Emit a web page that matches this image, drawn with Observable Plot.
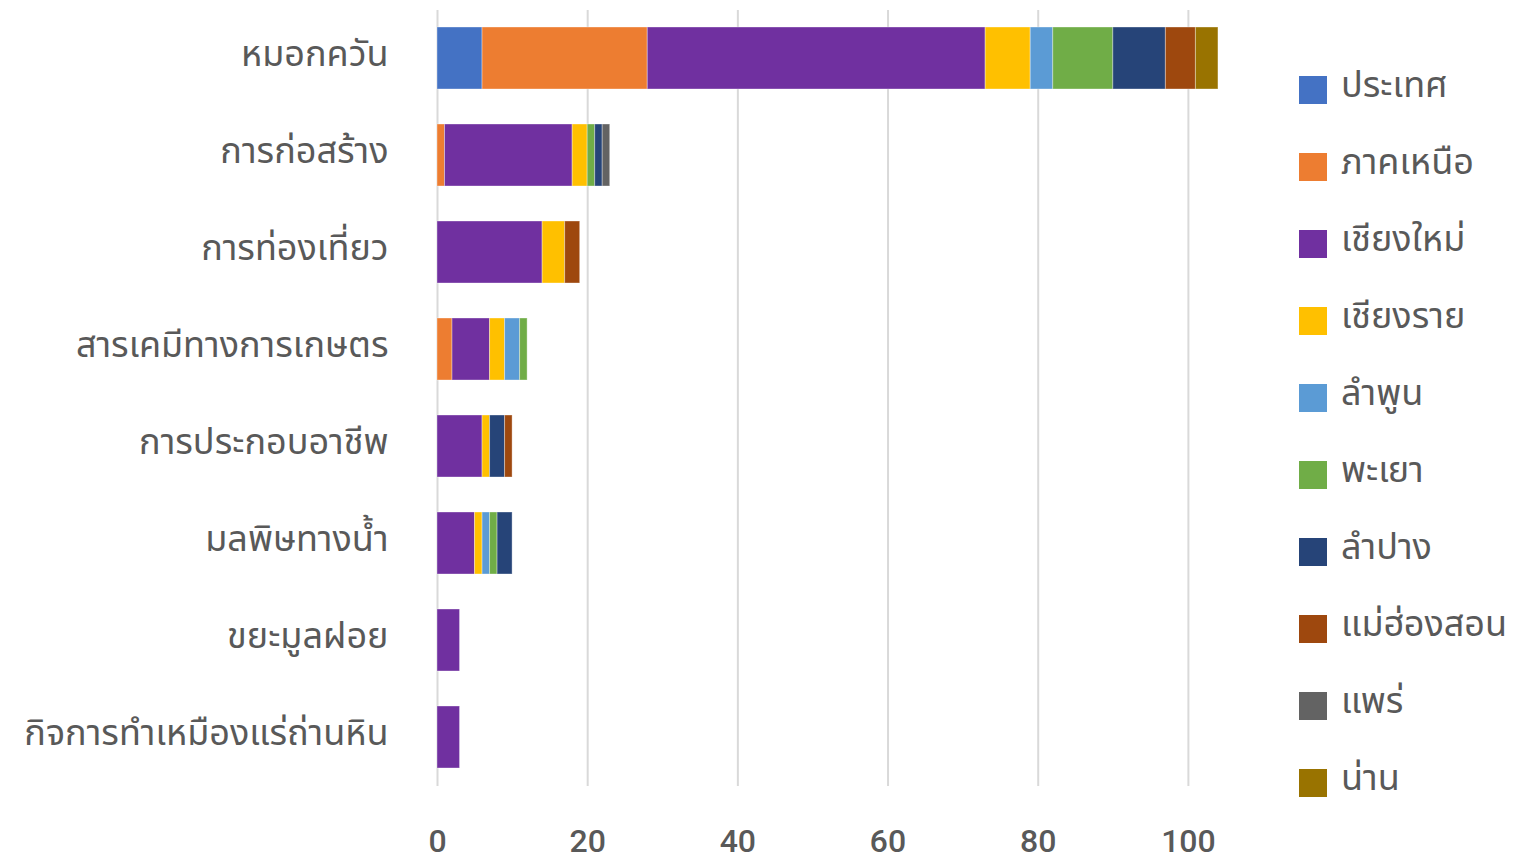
<!DOCTYPE html>
<html>
<head>
<meta charset="utf-8">
<script src="https://cdn.jsdelivr.net/npm/d3@7"></script>
<script src="https://cdn.jsdelivr.net/npm/@observablehq/plot@0.6"></script>
<style>
  html, body { margin: 0; padding: 0; background: #fff; }
  body { width: 1532px; height: 860px; overflow: hidden; font-family: "Noto Sans Thai", Kanit, "Noto Sans", sans-serif; }
  #wrap { position: relative; width: 1532px; height: 860px; }
  #chart { position: absolute; left: 0; top: 0; }
  #legend { position: absolute; left: 1299px; top: 51px; }
  .item { display: flex; align-items: center; height: 77.1px; font-size: 36px; color: #595959; }
  .item span { position: relative; top: -4px; white-space: nowrap; }
  .sw { width: 28px; height: 28px; margin-right: 14px; flex: none; }
</style>
</head>
<body>
<div id="wrap"><div id="chart"></div><div id="legend"></div></div>
<script>
const categories = ["หมอกควัน", "การก่อสร้าง", "การท่องเที่ยว", "สารเคมีทางการเกษตร", "การประกอบอาชีพ", "มลพิษทางน้ำ", "ขยะมูลฝอย", "กิจการทำเหมืองแร่ถ่านหิน"];
const seriesNames = ["ประเทศ", "ภาคเหนือ", "เชียงใหม่", "เชียงราย", "ลำพูน", "พะเยา", "ลำปาง", "แม่ฮ่องสอน", "แพร่", "น่าน"];
const seriesColors = ["#4472C4", "#ED7D31", "#7030A0", "#FFC000", "#5B9BD5", "#70AD47", "#264478", "#9E480E", "#636363", "#997300"];
// values[category][series]
const values = [
  [6, 22, 45, 6, 3, 8, 7, 4, 0, 3],
  [0, 1, 17, 2, 0, 1, 1, 0, 1, 0],
  [0, 0, 14, 3, 0, 0, 0, 2, 0, 0],
  [0, 2, 5, 2, 2, 1, 0, 0, 0, 0],
  [0, 0, 6, 1, 0, 0, 2, 1, 0, 0],
  [0, 0, 5, 1, 1, 1, 2, 0, 0, 0],
  [0, 0, 3, 0, 0, 0, 0, 0, 0, 0],
  [0, 0, 3, 0, 0, 0, 0, 0, 0, 0]
];
const xTicks = [0, 20, 40, 60, 80, 100];

const data = [];
categories.forEach((c, i) => {
  seriesNames.forEach((s, j) => {
    if (values[i][j] > 0) data.push({category: c, series: s, value: values[i][j]});
  });
});

const fontFam = '"Noto Sans Thai", Kanit, "Noto Sans", sans-serif';

const chart = Plot.plot({
  width: 1280,
  height: 860,
  marginLeft: 437,
  marginRight: 17,
  marginTop: 10,
  marginBottom: 74,
  style: {fontFamily: fontFam, background: "#fff"},
  x: {domain: [0, 110], ticks: xTicks, label: null},
  y: {domain: categories, paddingInner: 0.36, paddingOuter: 0.175, label: null},
  color: {domain: seriesNames, range: seriesColors},
  marks: [
    Plot.ruleX(xTicks, {stroke: "#d9d9d9", strokeWidth: 2}),
    Plot.barX(data, Plot.stackX({
      y: "category", x: "value", fill: "series", z: "series",
      order: seriesNames, stroke: "#ffffff", strokeOpacity: 0.35, strokeWidth: 1
    })),
    Plot.axisX({ticks: xTicks, tickSize: 0, tickPadding: 43, fontSize: 32, fill: "#595959", fontWeight: 500, fontFamily: "Roboto, sans-serif", label: null}),
    Plot.axisY({tickSize: 0, tickPadding: 49, fontSize: 36, fill: "#595959", dy: -4, label: null})
  ]
});
document.getElementById("chart").appendChild(chart);

const legend = document.getElementById("legend");
seriesNames.forEach((s, j) => {
  const it = document.createElement("div");
  it.className = "item";
  const sw = document.createElement("div");
  sw.className = "sw";
  sw.style.background = seriesColors[j];
  const t = document.createElement("span");
  t.textContent = s;
  it.appendChild(sw);
  it.appendChild(t);
  legend.appendChild(it);
});
</script>
</body>
</html>
